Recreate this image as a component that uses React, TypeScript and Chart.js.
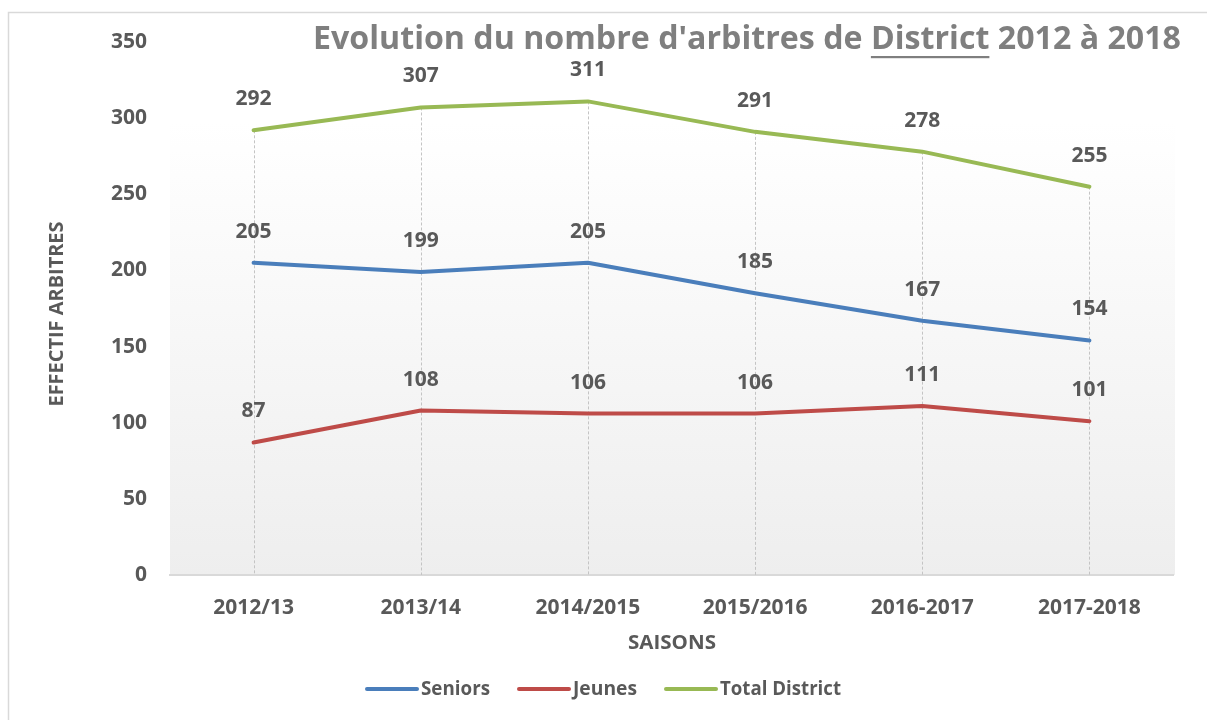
import React, { useEffect, useRef } from "react";
import { Chart, registerables } from "chart.js";

Chart.register(...registerables);

const categories = ["2012/13", "2013/14", "2014/2015", "2015/2016", "2016-2017", "2017-2018"];
const seniors = [205, 199, 205, 185, 167, 154];
const jeunes = [87, 108, 106, 106, 111, 101];
const totalDistrict = [292, 307, 311, 291, 278, 255];
const seriesNames = ["Seniors", "Jeunes", "Total District"];
const seriesColors = ["#4a7ebb", "#be4b48", "#98b954"];
const yTicks = { min: 0, max: 350, step: 50 };

const TITLE_PRE = "Evolution du nombre d'arbitres de ";
const TITLE_U = "District";
const TITLE_POST = " 2012 à 2018";
const Y_TITLE = "EFFECTIF ARBITRES";
const X_TITLE = "SAISONS";

const FONT = "'Open Sans', 'Noto Sans', sans-serif";
const TEXT = "#595959";

function fitText(ctx: CanvasRenderingContext2D, text: string, x: number, y: number, size: number, targetW: number, color: string) {
  ctx.save();
  ctx.font = `bold ${size}px ${FONT}`;
  const w = ctx.measureText(text).width;
  const s = targetW / w;
  ctx.fillStyle = color;
  ctx.textAlign = "left";
  ctx.textBaseline = "middle";
  ctx.translate(x, y);
  ctx.scale(s, 1);
  ctx.fillText(text, 0, 0);
  ctx.restore();
}

const decorPlugin = {
  id: "decor",
  beforeDraw(chart: any) {
    const { ctx, chartArea } = chart;
    ctx.save();
    ctx.fillStyle = "#ffffff";
    ctx.fillRect(0, 0, chart.width, chart.height);
    ctx.strokeStyle = "#d9d9d9";
    ctx.lineWidth = 1.5;
    ctx.strokeRect(8.5, 12.5, chart.width + 20, chart.height + 20);
    const g = ctx.createLinearGradient(0, chartArea.top, 0, chartArea.bottom);
    g.addColorStop(0, "#ffffff");
    g.addColorStop(0.15, "#ffffff");
    g.addColorStop(1, "#eeeeee");
    ctx.fillStyle = g;
    ctx.fillRect(chartArea.left, chartArea.top, chartArea.right - chartArea.left + 2, chartArea.bottom - chartArea.top);
    ctx.restore();
  },
  beforeDatasetsDraw(chart: any) {
    const { ctx, chartArea, scales } = chart;
    ctx.save();
    ctx.strokeStyle = "#c4c4c4";
    ctx.lineWidth = 1;
    ctx.setLineDash([3, 2]);
    categories.forEach((_, i) => {
      const maxV = Math.max(seniors[i], jeunes[i], totalDistrict[i]);
      const x = Math.round(scales.x.getPixelForValue(i)) + 0.5;
      ctx.beginPath();
      ctx.moveTo(x, scales.y.getPixelForValue(maxV));
      ctx.lineTo(x, chartArea.bottom);
      ctx.stroke();
    });
    ctx.restore();
  },
  afterDatasetsDraw(chart: any) {
    const { ctx } = chart;
    ctx.save();
    ctx.font = `bold 21px ${FONT}`;
    ctx.fillStyle = TEXT;
    ctx.textAlign = "center";
    ctx.textBaseline = "middle";
    chart.data.datasets.forEach((ds: any, di: number) => {
      const meta = chart.getDatasetMeta(di);
      meta.data.forEach((pt: any, i: number) => {
        ctx.fillText(String(ds.data[i]), pt.x, pt.y - 31);
      });
    });
    ctx.restore();
  },
  afterDraw(chart: any) {
    const { ctx } = chart;
    // Title
    ctx.save();
    const size = 32;
    ctx.font = `bold ${size}px ${FONT}`;
    const full = TITLE_PRE + TITLE_U + TITLE_POST;
    const wFull = ctx.measureText(full).width;
    const targetW = 868;
    const s = targetW / wFull;
    const x0 = 313;
    const yBase = 40;
    ctx.translate(x0, yBase);
    ctx.scale(s, 1);
    ctx.fillStyle = "#7f7f7f";
    ctx.textAlign = "left";
    ctx.textBaseline = "middle";
    ctx.fillText(full, 0, 0);
    const uStart = ctx.measureText(TITLE_PRE).width;
    const uW = ctx.measureText(TITLE_U).width;
    ctx.fillRect(uStart, 16, uW, 2.2);
    ctx.restore();

    // Y axis title
    ctx.save();
    ctx.translate(57, 314);
    ctx.rotate(-Math.PI / 2);
    fitText(ctx, Y_TITLE, -92.5, 0, 20, 185, TEXT);
    ctx.restore();

    // X axis title
    fitText(ctx, X_TITLE, 628, 643, 20, 88, TEXT);

    // Legend
    const items = [
      { x: 366, tw: 69 },
      { x: 518, tw: 64 },
      { x: 665, tw: 121 },
    ];
    const ly = 689;
    items.forEach((it, i) => {
      ctx.save();
      ctx.strokeStyle = seriesColors[i];
      ctx.lineWidth = 4;
      ctx.lineCap = "round";
      ctx.beginPath();
      ctx.moveTo(it.x + 1, ly);
      ctx.lineTo(it.x + 51, ly);
      ctx.stroke();
      ctx.restore();
      fitText(ctx, seriesNames[i], it.x + 55, ly, 20, it.tw, TEXT);
    });
  },
};

export default function App() {
  const ref = useRef<HTMLCanvasElement | null>(null);
  useEffect(() => {
    if (!ref.current) return;
    const chart = new Chart(ref.current, {
      type: "line",
      data: {
        labels: categories,
        datasets: [
          { label: seriesNames[0], data: seniors, borderColor: seriesColors[0], borderWidth: 4, pointRadius: 0, tension: 0, borderCapStyle: "round", borderJoinStyle: "round" },
          { label: seriesNames[1], data: jeunes, borderColor: seriesColors[1], borderWidth: 4, pointRadius: 0, tension: 0, borderCapStyle: "round", borderJoinStyle: "round" },
          { label: seriesNames[2], data: totalDistrict, borderColor: seriesColors[2], borderWidth: 4, pointRadius: 0, tension: 0, borderCapStyle: "round", borderJoinStyle: "round" },
        ],
      },
      options: {
        animation: false,
        responsive: false,
        maintainAspectRatio: false,
        layout: { padding: { top: 42, right: 34, bottom: 0, left: 0 } },
        plugins: { legend: { display: false }, title: { display: false }, tooltip: { enabled: false } },
        scales: {
          x: {
            type: "category",
            offset: true,
            grid: { display: false, drawTicks: false },
            border: { display: true, color: "#d9d9d9", width: 2 },
            ticks: { color: TEXT, font: { family: FONT, size: 21, weight: "bold" }, padding: 20, maxRotation: 0 },
            afterFit: (scale: any) => { scale.height = 145; },
          },
          y: {
            min: yTicks.min,
            max: yTicks.max,
            grid: { display: false, drawTicks: false },
            border: { display: false },
            ticks: { stepSize: yTicks.step, color: TEXT, font: { family: FONT, size: 21, weight: "bold" }, padding: 23 },
            afterFit: (scale: any) => { scale.width = 170; },
          },
        },
      },
      plugins: [decorPlugin],
    } as any);
    return () => chart.destroy();
  }, []);
  return (
    <div style={{ position: "fixed", left: 0, top: 0, width: 1207, height: 720, background: "#fff" }}>
      <canvas ref={ref} width={1207} height={720} style={{ width: 1207, height: 720, display: "block" }} />
    </div>
  );
}
